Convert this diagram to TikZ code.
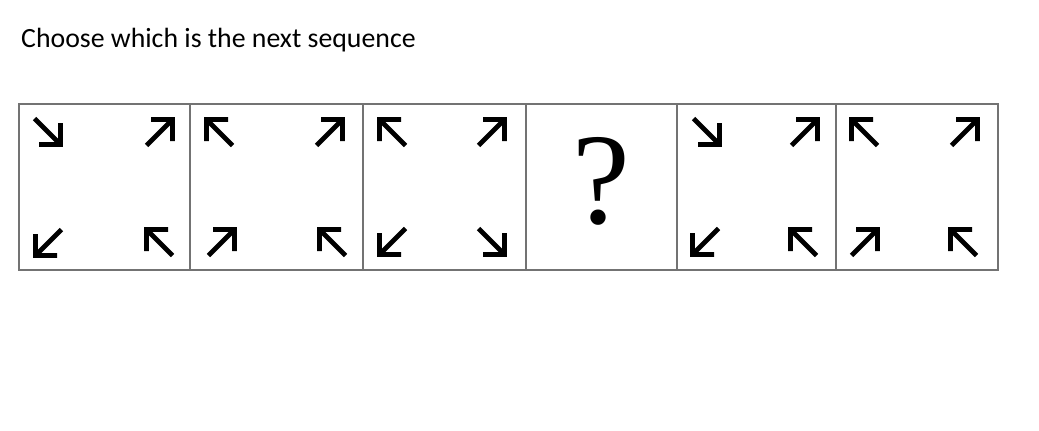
\documentclass[tikz,border=0pt]{standalone}
\usepackage{fontspec}
\setmainfont{Carlito}
\newfontfamily\qfont{Liberation Serif}
\usepackage{tikz}

\tikzset{
  arw/.pic={\draw[line width=4.8pt] (-13.5,-13.5) -- (12.5,12.5) (-9,12.5) -- (12.5,12.5) -- (12.5,-9);}
}

\begin{document}
\begin{tikzpicture}[x=1pt,y=1pt,frame/.style={draw=black!55,line width=1.8pt}]
\useasboundingbox (0,0) rectangle (1039,-431);
\node[anchor=base west,inner sep=0pt,font=\fontsize{27.8}{34}\selectfont] (title) at (21,-47) {Choose which is the next sequence};
\draw[frame] (19,-104) rectangle (998,-270);
\draw[frame] (190,-104) -- (190,-270);
\draw[frame] (363,-104) -- (363,-270);
\draw[frame] (526,-104) -- (526,-270);
\draw[frame] (677,-104) -- (677,-270);
\draw[frame] (836,-104) -- (836,-270);
% first box
\pic[rotate=-90] at (48,-132) {arw};
\pic[rotate=0] at (160,-132) {arw};
\pic[rotate=180] at (48,-243) {arw};
\pic[rotate=90] at (159,-242) {arw};
% second box
\pic[rotate=90] at (219,-132) {arw};
\pic[rotate=0] at (330,-132) {arw};
\pic[rotate=0] at (222,-242) {arw};
\pic[rotate=90] at (332,-242) {arw};
% third box
\pic[rotate=90] at (392,-132) {arw};
\pic[rotate=0] at (492,-132) {arw};
\pic[rotate=180] at (392,-242) {arw};
\pic[rotate=-90] at (492,-242) {arw};
% missing one
\node[inner sep=0pt,font=\qfont\fontsize{130}{130}\selectfont] (qmark) at (601,-181.5) {?};
% fifth box
\pic[rotate=-90] at (707,-132) {arw};
\pic[rotate=0] at (805,-132) {arw};
\pic[rotate=180] at (705,-242) {arw};
\pic[rotate=90] at (803,-242) {arw};
% sixth box
\pic[rotate=90] at (864,-132) {arw};
\pic[rotate=0] at (965,-132) {arw};
\pic[rotate=0] at (865,-242) {arw};
\pic[rotate=90] at (963,-242) {arw};
\end{tikzpicture}
\end{document}
